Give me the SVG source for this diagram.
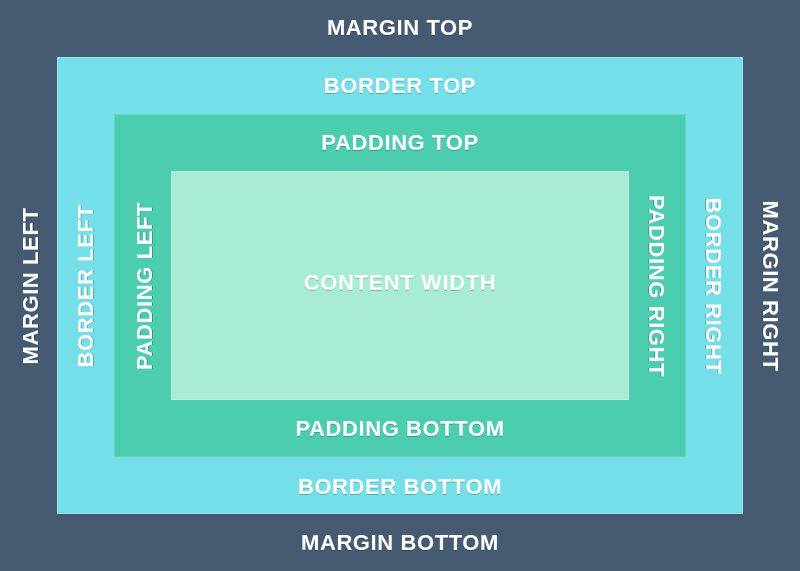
<svg xmlns="http://www.w3.org/2000/svg" width="800" height="571" viewBox="0 0 800 571">
<style>
text{font-family:"Liberation Sans",Arial,sans-serif;font-weight:bold;font-size:22px;letter-spacing:0.6px;fill:#ffffff;text-anchor:middle;filter:url(#sh)}
.margin{fill:#465a72}
.border{fill:#74dee9;stroke:#8fe6ee;stroke-width:1}
.padding{fill:#4ccdb0;stroke:#66d6bd;stroke-width:1}
.content{fill:#a8ecd6;stroke:#b8f0df;stroke-width:1}
</style>
<defs>
<filter id="sh" x="-10%" y="-30%" width="120%" height="160%">
<feDropShadow dx="0" dy="1" stdDeviation="0.6" flood-color="#000000" flood-opacity="0.25"/>
</filter>
</defs>
<g id="margin">
<rect class="margin" x="0" y="0" width="800" height="571"/>
<text x="400" y="35">MARGIN TOP</text>
<text x="400" y="550">MARGIN BOTTOM</text>
<text transform="translate(38,286) rotate(-90)">MARGIN LEFT</text>
<text transform="translate(763,286) rotate(90)">MARGIN RIGHT</text>
</g>
<g id="border">
<rect class="border" x="57.5" y="57.5" width="685" height="456"/>
<text x="400" y="93">BORDER TOP</text>
<text x="400" y="494">BORDER BOTTOM</text>
<text transform="translate(93,286) rotate(-90)">BORDER LEFT</text>
<text transform="translate(706,286) rotate(90)">BORDER RIGHT</text>
</g>
<g id="padding">
<rect class="padding" x="114.5" y="114.5" width="571" height="342"/>
<text x="400" y="150">PADDING TOP</text>
<text x="400" y="436">PADDING BOTTOM</text>
<text transform="translate(152,286) rotate(-90)">PADDING LEFT</text>
<text transform="translate(649,286) rotate(90)">PADDING RIGHT</text>
</g>
<g id="content">
<rect class="content" x="171.5" y="171.5" width="457" height="228"/>
<text x="400" y="290">CONTENT WIDTH</text>
</g>
<g id="connectors"></g>
</svg>
